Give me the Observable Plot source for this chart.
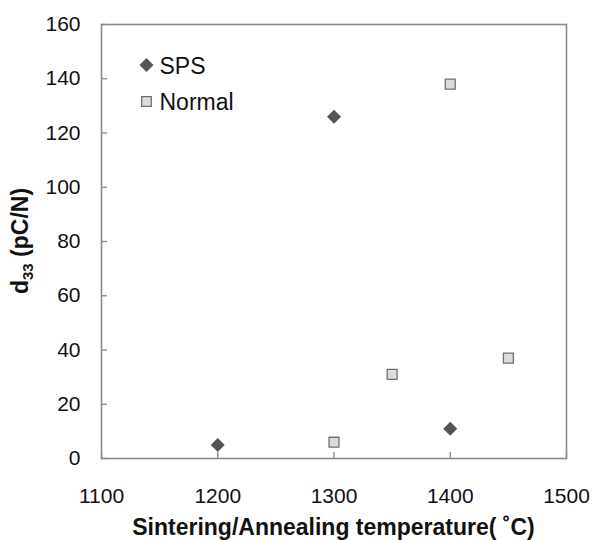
<!DOCTYPE html>
<html>
<head>
<meta charset="utf-8">
<script src="https://cdn.jsdelivr.net/npm/d3@7"></script>
<script src="https://cdn.jsdelivr.net/npm/@observablehq/plot@0.6"></script>
<style>
  html, body { margin: 0; padding: 0; background: #fff; }
  #chart { width: 592px; height: 540px; }
  svg { font-family: "Liberation Sans", Arial, sans-serif; }
</style>
</head>
<body>
<div id="chart"></div>
<script>
// Data
const spsTemps = [1200, 1300, 1400];
const spsD33 = [5, 126, 11];
const normalTemps = [1300, 1350, 1400, 1450];
const normalD33 = [6, 31, 138, 37];
const xTicks = [1100, 1200, 1300, 1400, 1500];
const yTicks = [0, 20, 40, 60, 80, 100, 120, 140, 160];
const seriesNames = ["SPS", "Normal"];
const xTitle = "Sintering/Annealing temperature( \u02DAC)";

const sps = spsTemps.map((t, i) => ({t, v: spsD33[i]}));
const normal = normalTemps.map((t, i) => ({t, v: normalD33[i]}));

const W = 592, H = 540;
const mL = 101, mR = 26, mT = 24, mB = 82;
const plotW = W - mL - mR, plotH = H - mT - mB;
const axisColor = "#8a8a8a";
const spsColor = "#555555";
const normFill = "#dcdcdc";
const normStroke = "#707070";

const chart = Plot.plot({
  width: W,
  height: H,
  marginLeft: mL,
  marginRight: mR,
  marginTop: mT,
  marginBottom: mB,
  style: {fontFamily: "'Liberation Sans', Arial, sans-serif", background: "#fff"},
  x: {domain: [1100, 1500]},
  y: {domain: [0, 160]},
  marks: [
    // inward ticks
    Plot.gridX(xTicks, {stroke: axisColor, strokeOpacity: 1, strokeWidth: 1.3, insetTop: plotH - 6}),
    Plot.gridY(yTicks, {stroke: axisColor, strokeOpacity: 1, strokeWidth: 1.3, insetRight: plotW - 6}),
    Plot.frame({stroke: axisColor, strokeWidth: 1.6}),
    Plot.axisX(xTicks, {tickSize: 0, tickPadding: 29.5, fontSize: 21, fill: "#111", label: null, tickFormat: d3.format("d")}),
    Plot.axisY(yTicks, {tickSize: 0, tickPadding: 21, fontSize: 21, fill: "#111", label: null, tickFormat: d3.format("d")}),
    Plot.dot(sps, {x: "t", y: "v", symbol: "diamond2", r: 6.3, fill: spsColor, stroke: "none"}),
    Plot.dot(normal, {x: "t", y: "v", symbol: "square", r: 5.6, fill: normFill, stroke: normStroke, strokeWidth: 1.3}),
    // legend
    Plot.dot([seriesNames[0]], {frameAnchor: "top-left", dx: 45, dy: 40.5, symbol: "diamond2", r: 6.3, fill: spsColor, stroke: "none"}),
    Plot.dot([seriesNames[1]], {frameAnchor: "top-left", dx: 45, dy: 77, symbol: "square", r: 5.4, fill: normFill, stroke: normStroke, strokeWidth: 1.3}),
    Plot.text([seriesNames[0]], {frameAnchor: "top-left", dx: 58, dy: 42.3, text: d => d, textAnchor: "start", lineAnchor: "middle", fontSize: 23, fill: "#111"}),
    Plot.text([seriesNames[1]], {frameAnchor: "top-left", dx: 58, dy: 78.5, text: d => d, textAnchor: "start", lineAnchor: "middle", fontSize: 23, fill: "#111"})
  ]
});

document.getElementById("chart").appendChild(chart);

// Axis titles (with subscript for d33)
const svg = d3.select(chart);
svg.append("text")
  .attr("x", mL + plotW / 2)
  .attr("y", 535)
  .attr("text-anchor", "middle")
  .attr("font-size", 23)
  .attr("font-weight", "bold")
  .attr("fill", "#111")
  .text(xTitle);

const yt = svg.append("text")
  .attr("transform", `translate(28,${mT + plotH / 2}) rotate(-90)`)
  .attr("text-anchor", "middle")
  .attr("font-size", 23)
  .attr("font-weight", "bold")
  .attr("fill", "#111");
yt.append("tspan").text("d");
yt.append("tspan").attr("font-size", 15).attr("dy", 5).text("33");
yt.append("tspan").attr("dy", -5).text(" (pC/N)");
</script>
</body>
</html>
